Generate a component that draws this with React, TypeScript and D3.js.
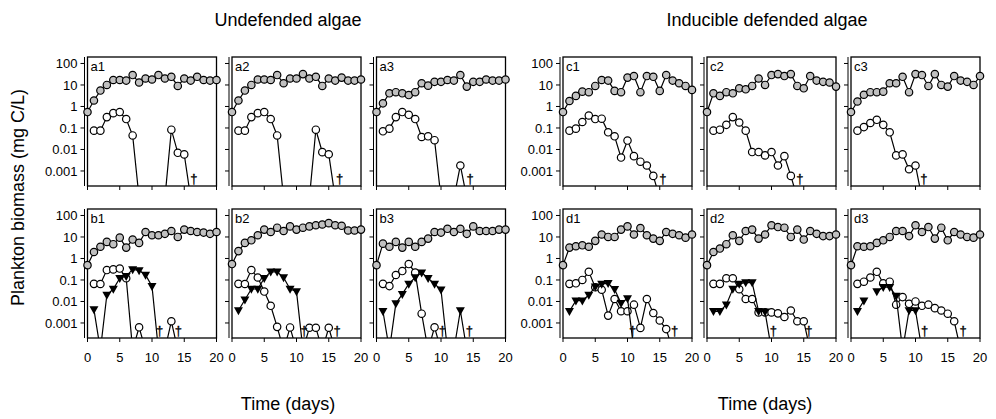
import React, { useRef, useEffect } from 'react'
import * as d3 from 'd3'

// days sampled (x categories)
const DAYS = [0, 1, 2, 3, 4, 5, 6, 7, 8, 9, 10, 11, 12, 13, 14, 15, 16, 17, 18, 19, 20]
const X_TICKS = [0, 5, 10, 15, 20]
const Y_TICKS = [0.001, 0.01, 0.1, 1, 10, 100]
const Y_TICK_LABELS = ['0.001', '0.01', '0.1', '1', '10', '100']

// algae (grey), rotifers (white), predators (black triangles); 0 = extinct, null = not sampled
const a1Algae = [0.55, 1.9, 5.5, 10, 17, 17, 16, 29, 13, 20, 18, 29, 20, 24, 9, 20, 16, 24, 17, 16, 17]
const a1Rotifer = [null, 0.075, 0.075, 0.32, 0.49, 0.55, 0.26, 0.045, 0, null, null, null, 0, 0.083, 0.007, 0.0059, 0, null, null, null, null]
const a2Algae = [0.55, 1.9, 5.5, 10, 18, 18, 17, 29, 12, 20, 20, 32, 20, 24, 9, 20, 16, 22, 16, 16, 18]
const a2Rotifer = [null, 0.075, 0.075, 0.32, 0.49, 0.55, 0.26, 0.045, 0, null, null, null, 0, 0.083, 0.0075, 0.006, 0, null, null, null, null]
const a3Algae = [0.55, 1.4, 4.1, 4.6, 4.1, 3.4, 4.6, 12, 9.3, 14, 14, 17, 16, 29, 8.4, 14, 14, 18, 16, 16, 18]
const a3Rotifer = [null, 0.07, 0.093, 0.32, 0.55, 0.41, 0.26, 0.038, 0.041, 0.027, 0, null, 0, 0.0018, 0, null, null, null, null, null, null]

const b1Algae = [0.49, 2.0, 3.5, 5.9, 4.6, 9.3, 3.2, 7.6, 5.3, 17, 12, 12, 14, 19, 10, 22, 19, 17, 16, 14, 17]
const b1Rotifer = [null, 0.066, 0.065, 0.29, 0.31, 0.34, 0.12, 0, 0.00063, 0, null, null, 0, 0.0012, 0, null, null, null, null, null, null]
const b1Predator = [null, 0.0042, 0, 0.02, 0.038, 0.12, 0.15, 0.31, 0.28, 0.17, 0.052, 0, null, null, null, null, null, null, null, null, null]
const b2Algae = [0.55, 2.2, 5.3, 7, 12, 22, 17, 27, 19, 31, 22, 27, 31, 35, 38, 44, 35, 33, 20, 20, 22]
const b2Rotifer = [null, 0.066, 0.065, 0.29, 0.13, 0.029, 0.0063, 0.00066, 0, 0.00062, 0, 0, 0.0006, 0.0006, 0, 0.0006, 0, null, null, null, null]
const b2Predator = [null, 0.0038, 0.012, 0.038, 0.038, 0.12, 0.24, 0.24, 0.13, 0.038, 0.029, 0, null, null, null, null, null, null, null, null, null]
const b3Algae = [0.49, 4.9, 3.5, 5.9, 3.2, 5.9, 3.5, 5.9, 8.4, 17, 16, 24, 17, 24, 14, 31, 19, 19, 19, 22, 22]
const b3Rotifer = [null, 0.066, 0.052, 0.17, 0.26, 0.55, 0.22, 0.0027, 0, 0.00063, 0, null, null, null, null, null, null, null, null, null, null]
const b3Predator = [null, 0.0035, 0, 0.008, 0.022, 0.066, 0.13, 0.22, 0.12, 0.066, 0.035, 0, 0, 0.0038, 0, null, null, null, null, null, null]

const c1Algae = [0.55, 1.8, 3.1, 4.9, 4.6, 9, 17, 16, 5.3, 4.6, 22, 26, 4.6, 26, 24, 5.3, 29, 16, 12, 9, 5.9]
const c1Rotifer = [null, 0.075, 0.093, 0.19, 0.38, 0.26, 0.27, 0.063, 0.041, 0.0042, 0.026, 0.0049, 0.0027, 0.0018, 0.00059, 0, null, null, null, null, null]
const c2Algae = [0.55, 4.1, 3.1, 4.6, 4.1, 7, 6.3, 9, 20, 10, 29, 32, 26, 32, 9, 7, 26, 16, 14, 13, 8.4]
const c2Rotifer = [null, 0.075, 0.083, 0.14, 0.32, 0.18, 0.075, 0.0076, 0.0076, 0.0053, 0.0076, 0.0018, 0.0049, 0.00059, 0, null, null, null, null, null, null]
const c3Algae = [0.55, 1.7, 3.5, 4.6, 4.6, 4.9, 12, 12, 24, 4.6, 32, 29, 9, 32, 10, 8.4, 26, 16, 14, 10, 26]
const c3Rotifer = [null, 0.075, 0.11, 0.17, 0.24, 0.14, 0.063, 0.0053, 0.0059, 0.0012, 0.0018, 0, null, null, null, null, null, null, null, null, null]

const d1Algae = [0.49, 3.2, 3.7, 4.1, 3.5, 6.6, 13, 10, 10, 22, 31, 13, 26, 12, 8.4, 6.6, 17, 14, 12, 9.3, 13]
const d1Rotifer = [null, 0.066, 0.07, 0.1, 0.24, 0.046, 0.035, 0.0022, 0.013, 0.0035, 0.0035, 0.0071, 0.00059, 0.013, 0.0029, 0.0013, 0.00052, 0, null, null, null]
const d1Predator = [null, 0.0035, 0.011, 0.011, 0.02, 0.049, 0.066, 0.07, 0.037, 0.0083, 0.014, 0, null, null, null, null, null, null, null, null, null]
const d2Algae = [0.49, 2.0, 2.9, 4.6, 12, 6.6, 19, 22, 8.4, 13, 35, 29, 27, 10, 22, 7.6, 19, 14, 11, 11, 13]
const d2Rotifer = [null, 0.066, 0.066, 0.12, 0.12, 0.037, 0.013, 0.013, 0.0031, 0.0031, 0.0031, 0.0028, 0.0019, 0.0038, 0.0012, 0.0012, 0, null, null, null, null]
const d2Predator = [null, 0.0035, 0.0035, 0.0071, 0.038, 0.066, 0.076, 0.076, 0.0035, 0.0033, 0, null, null, null, null, null, null, null, null, null, null]
const d3Algae = [0.49, 3.7, 3.5, 3.7, 5.3, 7, 10, 19, 19, 11, 35, 17, 29, 8.4, 27, 7, 17, 13, 10, 9.3, 13]
const d3Rotifer = [null, 0.066, 0.083, 0.13, 0.24, 0.07, 0.083, 0.0071, 0.016, 0.0078, 0.01, 0.0063, 0.0071, 0.0049, 0.0038, 0.0027, 0.0012, 0, null, null, null]
const d3Predator = [null, 0.0035, 0.011, null, 0.029, 0.046, 0.046, 0.018, 0, 0.0038, 0.0038, 0, null, null, null, null, null, null, null, null, null]

// extinction marks (day of the dagger)
const a1Daggers = [16.5]
const a2Daggers = [16.7]
const a3Daggers = [14.5]
const b1Daggers = [11.2, 14.1]
const b2Daggers = [11.2, 16.3]
const b3Daggers = [10.2, 14.4]
const c1Daggers = [15.5]
const c2Daggers = [14.4]
const c3Daggers = [11.3]
const d1Daggers = [10.8, 17.3]
const d2Daggers = [10.3, 15.8]
const d3Daggers = [11.4, 17.4]

const panels = [
    { id: 'a1', col: 0, row: 0, algae: a1Algae, rotifer: a1Rotifer, predator: null, daggers: a1Daggers },
    { id: 'a2', col: 1, row: 0, algae: a2Algae, rotifer: a2Rotifer, predator: null, daggers: a2Daggers },
    { id: 'a3', col: 2, row: 0, algae: a3Algae, rotifer: a3Rotifer, predator: null, daggers: a3Daggers },
    { id: 'b1', col: 0, row: 1, algae: b1Algae, rotifer: b1Rotifer, predator: b1Predator, daggers: b1Daggers },
    { id: 'b2', col: 1, row: 1, algae: b2Algae, rotifer: b2Rotifer, predator: b2Predator, daggers: b2Daggers },
    { id: 'b3', col: 2, row: 1, algae: b3Algae, rotifer: b3Rotifer, predator: b3Predator, daggers: b3Daggers },
    { id: 'c1', col: 3, row: 0, algae: c1Algae, rotifer: c1Rotifer, predator: null, daggers: c1Daggers },
    { id: 'c2', col: 4, row: 0, algae: c2Algae, rotifer: c2Rotifer, predator: null, daggers: c2Daggers },
    { id: 'c3', col: 5, row: 0, algae: c3Algae, rotifer: c3Rotifer, predator: null, daggers: c3Daggers },
    { id: 'd1', col: 3, row: 1, algae: d1Algae, rotifer: d1Rotifer, predator: d1Predator, daggers: d1Daggers },
    { id: 'd2', col: 4, row: 1, algae: d2Algae, rotifer: d2Rotifer, predator: d2Predator, daggers: d2Daggers },
    { id: 'd3', col: 5, row: 1, algae: d3Algae, rotifer: d3Rotifer, predator: d3Predator, daggers: d3Daggers },
]

const width = 996
const height = 419
const colLeft = [87.5, 232, 376.5, 563, 707, 851]
const rowTop = [57, 209]
const panelW = 129
const panelH = 129
const font = "'Liberation Sans', Arial, sans-serif"

export default function App() {
    const svgRef = useRef<SVGSVGElement>(null)

    useEffect(() => {
        const svg = d3.select(svgRef.current)
        svg.selectAll('*').remove()

        const xScale = d3.scaleLinear().domain([0, 20]).range([0, panelW])
        const yScale = d3.scaleLog().domain([0.0002, 200]).range([panelH, 0])
        // extinct (0) values sit just under the frame and get clipped
        const yPos = (v: number) => (v === 0 ? panelH + 12 : yScale(v))

        const line = d3.line<any>()
            .defined(d => d.v !== null)
            .x(d => xScale(d.day))
            .y(d => yPos(d.v))

        svg.append('defs').append('clipPath')
            .attr('id', 'frame-clip')
            .append('rect')
            .attr('width', panelW)
            .attr('height', panelH)

        panels.forEach(p => {
            const g = svg.append('g')
                .attr('transform', `translate(${colLeft[p.col]},${rowTop[p.row]})`)

            // y axis, slightly offset from the frame
            g.append('line')
                .attr('x1', -3).attr('x2', -3)
                .attr('y1', 0).attr('y2', panelH)
                .attr('stroke', 'black').attr('stroke-width', 1)
            g.selectAll('.ytick')
                .data(Y_TICKS)
                .join('line')
                .attr('x1', -3).attr('x2', -7)
                .attr('y1', d => yScale(d)).attr('y2', d => yScale(d))
                .attr('stroke', 'black').attr('stroke-width', 1)
            if (p.col === 0 || p.col === 3) {
                g.selectAll('.ylabel')
                    .data(Y_TICKS)
                    .join('text')
                    .attr('x', -10)
                    .attr('y', d => yScale(d))
                    .attr('dy', '0.35em')
                    .attr('text-anchor', 'end')
                    .attr('font-family', font)
                    .attr('font-size', 13)
                    .text((d, i) => Y_TICK_LABELS[i])
            }

            // x ticks
            g.selectAll('.xtick')
                .data(X_TICKS)
                .join('line')
                .attr('x1', d => xScale(d)).attr('x2', d => xScale(d))
                .attr('y1', panelH).attr('y2', panelH + 4)
                .attr('stroke', 'black').attr('stroke-width', 1)
            if (p.row === 1) {
                g.selectAll('.xlabel')
                    .data(X_TICKS)
                    .join('text')
                    .attr('x', d => xScale(d))
                    .attr('y', panelH + 24)
                    .attr('text-anchor', 'middle')
                    .attr('font-family', font)
                    .attr('font-size', 13)
                    .text(d => d)
            }

            g.append('rect')
                .attr('width', panelW).attr('height', panelH)
                .attr('fill', 'none').attr('stroke', 'black').attr('stroke-width', 1.3)

            g.append('text')
                .attr('x', 3).attr('y', 14)
                .attr('font-family', font).attr('font-size', 13)
                .text(p.id)

            const series = [
                { vals: p.algae, kind: 'grey' },
                { vals: p.rotifer, kind: 'white' },
                { vals: p.predator, kind: 'tri' },
            ].filter(s => s.vals)

            series.forEach(s => {
                const pts = DAYS.map((day, i) => ({ day, v: s.vals[i] }))
                g.append('path')
                    .attr('clip-path', 'url(#frame-clip)')
                    .attr('d', line(pts))
                    .attr('fill', 'none')
                    .attr('stroke', 'black')
                    .attr('stroke-width', 1.2)

                const shown = pts.filter(d => d.v !== null && d.v > 0)
                if (s.kind === 'tri') {
                    g.selectAll(null)
                        .data(shown)
                        .join('path')
                        .attr('transform', d => `translate(${xScale(d.day)},${yPos(d.v)})`)
                        .attr('d', 'M-4.5,-3.2L4.5,-3.2L0,4.8Z')
                        .attr('fill', 'black')
                } else {
                    g.selectAll(null)
                        .data(shown)
                        .join('circle')
                        .attr('cx', d => xScale(d.day))
                        .attr('cy', d => yPos(d.v))
                        .attr('r', 3.7)
                        .attr('fill', s.kind === 'grey' ? '#c0c0c0' : 'white')
                        .attr('stroke', 'black')
                        .attr('stroke-width', 1.2)
                }
            })

            // grouped with opacity so the thin glyph gets greyscale antialiasing
            g.append('g')
                .attr('opacity', 0.999)
                .selectAll('text')
                .data(p.daggers)
                .join('text')
                .attr('x', d => xScale(d))
                .attr('y', panelH - 3)
                .attr('text-anchor', 'middle')
                .attr('font-family', font)
                .attr('font-size', 13)
                .attr('fill', 'black')
                .attr('stroke', 'black')
                .attr('stroke-width', 0.3)
                .text('†')
        })

        // titles and axis labels
        const titles = [
            { text: 'Undefended algae', x: 288, y: 26 },
            { text: 'Inducible defended algae', x: 767, y: 26 },
            { text: 'Time (days)', x: 288, y: 410 },
            { text: 'Time (days)', x: 765, y: 410 },
        ]
        svg.selectAll('.title')
            .data(titles)
            .join('text')
            .attr('x', d => d.x)
            .attr('y', d => d.y)
            .attr('text-anchor', 'middle')
            .attr('font-family', font)
            .attr('font-size', 18)
            .text(d => d.text)

        svg.append('text')
            .attr('transform', `translate(24,${(rowTop[0] + rowTop[1] + panelH) / 2}) rotate(-90)`)
            .attr('text-anchor', 'middle')
            .attr('font-family', font)
            .attr('font-size', 18)
            .text('Plankton biomass (mg C/L)')
    }, [])

    return (
        <div style={{ position: 'absolute', left: 0, top: 0 }}>
            <svg ref={svgRef} width={width} height={height} style={{ display: 'block', background: 'white' }}></svg>
        </div>
    )
}
